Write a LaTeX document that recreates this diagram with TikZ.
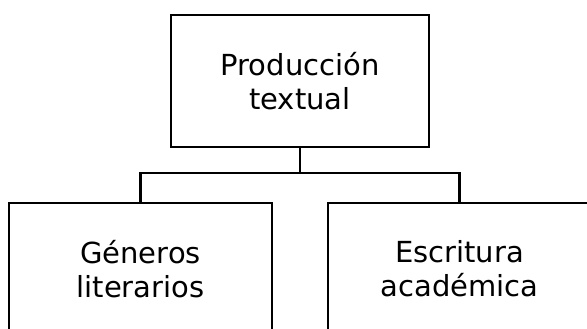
\documentclass[tikz,border=0pt]{standalone}
\usepackage{fontspec}
\setmainfont{DejaVu Sans}
\begin{document}
\begin{tikzpicture}[x=1pt,y=-1pt,
  box/.style={draw=black, line width=2.2pt, fill=white, minimum height=132pt, inner sep=0pt,
    align=center, font=\fontsize{29}{34}\selectfont},
  conn/.style={draw=black, line width=2.2pt}]
\useasboundingbox (0,0) rectangle (587,329);
\clip (0,0) rectangle (587,329);
\node[box, minimum width=258pt] (top) at (300,81) {Producción\\textual};
\node[box, minimum width=263pt] (left) at (140.5,269) {Géneros\\literarios};
\node[box, minimum width=263pt] (right) at (459.5,269) {Escritura\\académica};
\coordinate (j) at (300,173);
\draw[conn] (top.south) -- (j);
\draw[conn] (j) -| (left.north);
\draw[conn] (j) -| (right.north);
\end{tikzpicture}
\end{document}
